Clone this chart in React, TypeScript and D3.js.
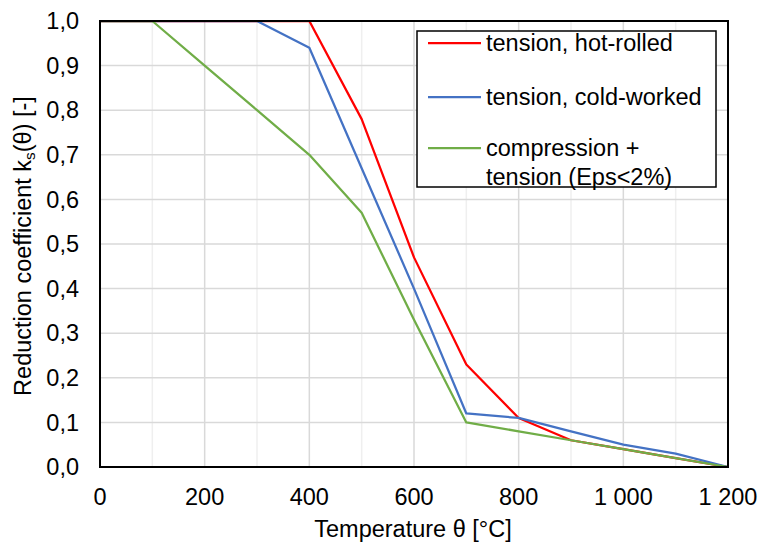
import React from "react";
import * as d3 from "d3";

const temps = [0, 100, 200, 300, 400, 500, 600, 700, 800, 900, 1000, 1100, 1200];
const hotRolled = [1, 1, 1, 1, 1, 0.78, 0.47, 0.23, 0.11, 0.06, 0.04, 0.02, 0];
const coldWorked = [1, 1, 1, 1, 0.94, 0.67, 0.4, 0.12, 0.11, 0.08, 0.05, 0.03, 0];
const compression = [1, 1, 0.9, 0.8, 0.7, 0.57, 0.33, 0.1, 0.08, 0.06, 0.04, 0.02, 0];

const xTicks = [0, 200, 400, 600, 800, 1000, 1200];
const xMinor = [100, 300, 500, 700, 900, 1100];
const yTicks = [0, 0.1, 0.2, 0.3, 0.4, 0.5, 0.6, 0.7, 0.8, 0.9, 1.0];

const series = [
  { name: "tension, hot-rolled", values: hotRolled, color: "#FF0000" },
  { name: "tension, cold-worked", values: coldWorked, color: "#4472C4" },
  { name: "compression +|tension (Eps<2%)", values: compression, color: "#70AD47" },
];

const W = 758, H = 544;
const L = 100, R = 728, T = 21, B = 467;
const FONT = "'Liberation Sans', Arial, sans-serif";
const FS = 23.5;

const fmtX = (v: number) => (v >= 1000 ? `${Math.floor(v / 1000)} ${String(v % 1000).padStart(3, "0")}` : String(v));
const fmtY = (v: number) => v.toFixed(1).replace(".", ",");

export default function App() {
  const x = d3.scaleLinear().domain([0, 1200]).range([L, R]);
  const y = d3.scaleLinear().domain([0, 1]).range([B, T]);
  const line = d3
    .line<number>()
    .x((_, i) => x(temps[i]))
    .y((d) => y(d));

  const legendRows = [43, 97, 148];

  return (
    <svg
      width={W}
      height={H}
      style={{ position: "absolute", left: 0, top: 0, background: "#fff" }}
      fontFamily={FONT}
    >
      <rect x={0} y={0} width={W} height={H} fill="#fff" />
      {/* minor vertical grid */}
      {xMinor.map((t) => (
        <line key={"m" + t} x1={x(t)} x2={x(t)} y1={T} y2={B} stroke="#efefef" strokeWidth={1.5} />
      ))}
      {/* major vertical grid */}
      {xTicks.map((t) => (
        <line key={"v" + t} x1={x(t)} x2={x(t)} y1={T} y2={B} stroke="#d9d9d9" strokeWidth={1.5} />
      ))}
      {/* horizontal grid */}
      {yTicks.map((t) => (
        <line key={"h" + t} x1={L} x2={R} y1={y(t)} y2={y(t)} stroke="#d9d9d9" strokeWidth={1.5} />
      ))}
      {/* series */}
      {series.map((s) => (
        <path
          key={s.name}
          d={line(s.values) || ""}
          fill="none"
          stroke={s.color}
          strokeWidth={2.25}
          strokeLinejoin="round"
        />
      ))}
      {/* plot border */}
      <rect x={L} y={T} width={R - L} height={B - T} fill="none" stroke="#000" strokeWidth={2} />
      {/* y tick labels */}
      {yTicks.map((t) => (
        <text key={"yl" + t} x={79} y={y(t)} dy="0.35em" textAnchor="end" fontSize={FS} fill="#000">
          {fmtY(t)}
        </text>
      ))}
      {/* x tick labels */}
      {xTicks.map((t) => (
        <text key={"xl" + t} x={x(t)} y={505} textAnchor="middle" fontSize={FS} fill="#000">
          {fmtX(t)}
        </text>
      ))}
      {/* axis titles */}
      <text x={(L + R) / 2 - 1} y={537} textAnchor="middle" fontSize={FS} fill="#000">
        Temperature θ [°C]
      </text>
      <text
        transform={`translate(31, ${(T + B) / 2 + 2}) rotate(-90)`}
        textAnchor="middle"
        fontSize={FS}
        fill="#000"
      >
        Reduction coefficient k
        <tspan fontSize={FS * 0.65} dy={4}>s</tspan>
        <tspan dy={-4}>(θ) [-]</tspan>
      </text>
      {/* legend */}
      <rect x={417} y={31} width={299} height={156} fill="#fff" stroke="#000" strokeWidth={1.5} />
      {series.map((s, i) => {
        const ly = legendRows[i];
        const parts = s.name.split("|");
        return (
          <g key={"lg" + s.name}>
            <line x1={428} x2={481} y1={ly} y2={ly} stroke={s.color} strokeWidth={2.25} />
            {parts.map((p, j) => (
              <text key={j} x={486} y={ly + j * 29} dy="0.35em" fontSize={FS} fill="#000">
                {p}
              </text>
            ))}
          </g>
        );
      })}
    </svg>
  );
}
